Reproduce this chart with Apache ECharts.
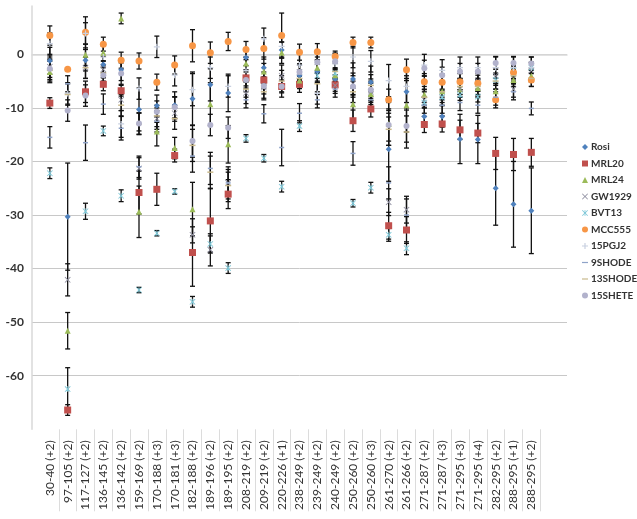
<!DOCTYPE html>
<html>
<head>
<meta charset="utf-8">
<script src="https://cdn.jsdelivr.net/npm/echarts@6/dist/echarts.min.js"></script>
<style>
html,body{margin:0;padding:0;background:#fff;}
#chart{width:637px;height:519px;}
</style>
</head>
<body>
<div id="chart"></div>
<script>
const categories = ['30-40 (+2)','97-105 (+2)','117-127 (+2)','136-145 (+2)','136-142 (+2)','159-169 (+2)','170-188 (+3)','170-181 (+3)','182-188 (+2)','189-196 (+2)','189-195 (+2)','208-219 (+2)','209-219 (+2)','220-226 (+1)','238-249 (+2)','239-249 (+2)','240-249 (+2)','250-260 (+2)','250-260 (+3)','261-270 (+2)','261-266 (+2)','271-287 (+2)','271-287 (+3)','271-295 (+3)','271-295 (+4)','282-295 (+2)','288-295 (+1)','288-295 (+2)'];

const seriesNames = ['Rosi','MRL20','MRL24','GW1929','BVT13','MCC555','15PGJ2','9SHODE','13SHODE','15SHETE'];

const rosiValues    = [-1.2,-30.3,-1.1,-1.9,-2.9,-10.3,-9.6,-9.5,-8.3,-5.7,-7.2,-0.6,-2.5,0.8,-4.0,-3.2,-4.6,-4.6,-5.2,-17.7,-7.0,-11.6,-11.6,-15.8,-15.9,-25.0,-28.0,-29.2];
const rosiErrors    = [2.5,10,2,1.5,2,4,2,2.5,5,3,3.5,1.5,2,1.5,2,2,1.5,3,3,6,3,2,2,4.6,4.5,6.9,8,8];
const mrl20Values   = [-9.1,-66.4,-7.0,-5.6,-6.8,-25.8,-25.2,-18.9,-37.0,-31.1,-26.1,-4.4,-4.8,-6.0,-5.6,null,-5.7,-12.4,-10.2,-32.0,-32.8,-13.1,-13.0,-14.1,-14.7,-18.5,-18.7,-18.3];
const mrl20Errors   = [1,1,2,1.2,1,4,3,1.2,6.3,6,2.7,1.5,1.5,1.2,1.5,0,1.2,2,1.5,2.5,2.5,1.5,1.5,1.8,1.8,3,3,2.6];
const mrl24Values   = [-3.3,-51.6,-0.1,0.3,6.7,-29.4,-14.4,-17.5,-28.9,-9.3,-16.8,-1.7,-3.2,0.3,-4.9,-2.5,-3.9,-9.3,-7.4,-13.0,-9.5,-7.5,-6.9,-6.5,-6.3,-6.9,-4.8,-4.0];
const mrl24Errors   = [2,3.4,2,1.5,1,4.8,2.7,2,5,4,3.5,1.2,1.5,2,1.5,2,1.2,3,2,4,5,1.5,1.5,1.5,1.5,1.5,1.2,1.2];
const gw1929Values  = [-2.3,-42.1,-2.5,-2.8,-8.5,-21.3,-12.0,-11.0,-33.7,-36.5,-24.0,-7.2,-6.2,-4.0,-3.3,-1.5,-5.8,-5.5,-7.0,-27.6,-29.0,-8.5,-8.0,-6.5,-5.0,-4.0,-6.5,-3.0];
const gw1929Errors  = [2,3,2,1.5,2,2,2,1.5,1.5,3,2,2,2,2,1.5,2,1.5,2,2,2.5,2.5,1.5,1.5,1.5,1.5,1.5,1.5,1.5];
const bvt13Values   = [-22.2,-62.5,-29.3,-14.3,-26.4,-44.0,-33.4,-25.6,-46.2,-35.4,-39.9,-15.7,-19.4,-24.7,-13.4,-4.0,-3.5,-27.8,-24.9,-33.7,-36.2,-9.0,-8.0,-7.6,-7.9,-4.8,-3.0,-2.5];
const bvt13Errors   = [1,4,1.5,0.9,1.1,0.5,0.5,0.5,1,1.5,1,0.7,0.7,1,1,1,1,0.7,1,1.2,1.2,1,1,1,1,1,1,1];
const mcc555Values  = [3.5,-2.8,4.1,1.9,-1.1,-1.25,-5.2,-2.0,1.6,0.3,2.4,0.9,1.1,3.5,0.4,0.5,-0.4,2.2,2.2,-8.5,-2.9,-5.1,-5.2,-5.1,-5.4,-8.5,-3.4,-4.8];
const mcc555Errors  = [1.8,0,2.9,1.3,1.5,1.5,1.5,1.7,3,2,1.7,1.5,2,4.2,1.5,1.5,1,1,1,2,2,1.5,1.5,1.5,1.5,1.5,1.2,1.2];
const pgj2Values    = [2.0,-7.3,3.9,-0.5,-13.0,-6.4,1.4,-3.9,-6.6,-2.5,-6.0,-3.0,2.9,1.5,-2.0,-7.3,-1.8,-0.5,-1.3,-4.9,-6.0,-2.0,-3.0,-2.5,-2.5,-2.5,-2.5,-2.5];
const pgj2Errors    = [2,2,2,2,2.5,2,2,2,3,2,2,2,2,2,2,2,2,2,2,3,3,2,2,2,2,2,2,2];
const shode9Values  = [-15.5,-5.5,-16.5,-9.3,-13.8,-21.0,-12.5,-10.0,-19.0,-21.3,-24.0,-8.5,-11.1,-17.4,-11.0,-8.5,-6.5,-18.5,-8.5,-24.0,-30.0,-9.5,-9.5,-9.0,-9.5,-8.0,-7.0,-10.1];
const shode9Errors  = [2,1.5,3.3,1.9,2.2,2,2,2,3,3,3,1.5,1.7,3.4,1.8,1.5,1.5,2.2,1.5,3,3,1.5,1.5,1.5,1.5,1.5,1.5,1.2];
const shode13Values = [-3.0,-7.5,-2.5,-3.5,-9.5,-13.0,-11.5,-12.0,-17.0,-22.0,-24.5,-6.5,-7.0,-5.0,-4.5,-5.5,-3.2,-7.0,-5.8,-14.0,-14.5,-8.0,-7.0,-6.0,-6.0,-5.0,-4.0,-4.5];
const shode13Errors = [2,2,2,1.5,2,2,2,2,3,3,3,1.5,1.5,2,1.5,2,1.5,2,2,3,3,1.5,1.5,1.5,1.5,1.5,1.5,1.5];
const shete15Values = [-2.7,-10.5,-7.7,-3.9,-3.6,-12.9,-10.7,-9.9,-16.2,-13.2,-13.7,-4.8,-5.9,-6.0,-3.3,-1.5,-1.3,-6.0,-6.6,-13.2,-13.4,-2.6,-3.9,-3.2,-3.2,-1.6,-1.6,-1.7];
const shete15Errors = [2,2,2,1.5,2,2,2,2,3,2,2,1.5,1.5,2,1.5,2,1.5,2,2,3,3,1.5,1.5,1.5,1.5,1.2,1.2,1.2];

const valueArrays = [rosiValues,mrl20Values,mrl24Values,gw1929Values,bvt13Values,mcc555Values,pgj2Values,shode9Values,shode13Values,shete15Values];
const errorArrays = [rosiErrors,mrl20Errors,mrl24Errors,gw1929Errors,bvt13Errors,mcc555Errors,pgj2Errors,shode9Errors,shode13Errors,shete15Errors];

const crossPath = 'path://M0,1 L1,0 L5,4 L9,0 L10,1 L6,5 L10,9 L9,10 L5,6 L1,10 L0,9 L4,5 Z';
const starPath = 'path://M0,1 L1,0 L5,4 L9,0 L10,1 L6,5 L10,9 L9,10 L5,6 L1,10 L0,9 L4,5 Z M4.4,0 L5.6,0 L5.6,10 L4.4,10 Z';
const plusPath = 'path://M4,0 L6,0 L6,4 L10,4 L10,6 L6,6 L6,10 L4,10 L4,6 L0,6 L0,4 L4,4 Z';
const dashPath = 'path://M0,0 L10,0 L10,2 L0,2 Z';

const styles = [
  {symbol:'diamond', size:6, color:'#4F81BD'},
  {symbol:'rect', size:7, color:'#C0504D'},
  {symbol:'triangle', size:6, color:'#9BBB59'},
  {symbol:crossPath, size:6, color:'#8E8EA0'},
  {symbol:starPath, size:6, color:'#7FC8D8'},
  {symbol:'circle', size:7, color:'#F79646'},
  {symbol:plusPath, size:6, color:'#C8D0E0'},
  {symbol:dashPath, size:[5,1.5], color:'#8FA3C8'},
  {symbol:dashPath, size:[6,1.5], color:'#C9B98C'},
  {symbol:'circle', size:6, color:'#B2B2CC'}
];

const errorData = [];
valueArrays.forEach((vals, s) => {
  vals.forEach((v, i) => {
    const e = errorArrays[s][i];
    if (v !== null && e > 0) errorData.push([i + 1, v - e, v + e]);
  });
});

function renderError(params, api) {
  const x = api.value(0);
  const top = api.coord([x, api.value(2)]);
  const bot = api.coord([x, api.value(1)]);
  const w = 2.5;
  const st = {stroke:'#111', lineWidth:1.3};
  return {type:'group', children:[
    {type:'line', shape:{x1:top[0], y1:top[1], x2:bot[0], y2:bot[1]}, style:st},
    {type:'line', shape:{x1:top[0]-w, y1:top[1], x2:top[0]+w, y2:top[1]}, style:st},
    {type:'line', shape:{x1:bot[0]-w, y1:bot[1], x2:bot[0]+w, y2:bot[1]}, style:st}
  ]};
}

const sepCats = [];
for (let k = 0; k <= 60; k++) sepCats.push(String(k / 2));

const series = [{
  name:'errors', type:'custom', renderItem:renderError, data:errorData,
  encode:{x:0, y:[1,2]}, z:1, silent:true
}];
seriesNames.forEach((name, s) => {
  const data = [];
  valueArrays[s].forEach((v, i) => { if (v !== null) data.push([i + 1, v]); });
  series.push({
    name:name, type:'scatter', data:data, symbol:styles[s].symbol,
    symbolSize:styles[s].size, itemStyle:{color:styles[s].color, opacity:1}, z:3
  });
});

const chart = echarts.init(document.getElementById('chart'), null, {renderer:'canvas'});
chart.setOption({
  animation:false,
  backgroundColor:'#ffffff',
  textStyle:{fontFamily:'Lato'},
  grid:{left:32, right:70, top:6.1, bottom:89.7, containLabel:false},
  legend:{
    data:seriesNames, orient:'vertical', left:577, top:135,
    itemWidth:6, itemHeight:6, itemGap:2.5,
    textStyle:{fontSize:10, fontWeight:'bold', color:'#333', fontFamily:'Lato', lineHeight:14, padding:[0,0,0,-2]}
  },
  xAxis:[{
    type:'value', min:0, max:30, interval:1,
    axisLine:{show:true, lineStyle:{color:'#d9d9d9', width:1.5}},
    axisTick:{show:false}, splitLine:{show:false},
    axisLabel:{rotate:90, fontSize:12, color:'#333', margin:11, fontFamily:'Lato',
      formatter:function(v){ return categories[v-1] || ''; }}
  },{
    type:'category', data:sepCats, boundaryGap:false, position:'bottom',
    axisLine:{show:false}, axisLabel:{show:false}, splitLine:{show:false},
    axisTick:{show:true, length:82, lineStyle:{color:'#dcdcdc'},
      interval:function(i){ return i % 2 === 1 && i >= 3 && i <= 57; }}
  }],
  yAxis:{
    type:'value', min:-70, max:9, interval:10,
    axisLine:{show:true, lineStyle:{color:'#d9d9d9', width:1.5}},
    axisTick:{show:false},
    splitLine:{show:true, showMinLine:false, showMaxLine:false, lineStyle:{color:'#c8c8c8'}},
    axisLabel:{fontSize:12, fontWeight:'bold', color:'#333', margin:8, fontFamily:'Lato',
      formatter:function(v){ return (v >= -60 && v <= 0 && v % 10 === 0) ? String(v) : ''; }}
  },
  series:series
});
</script>
</body>
</html>
